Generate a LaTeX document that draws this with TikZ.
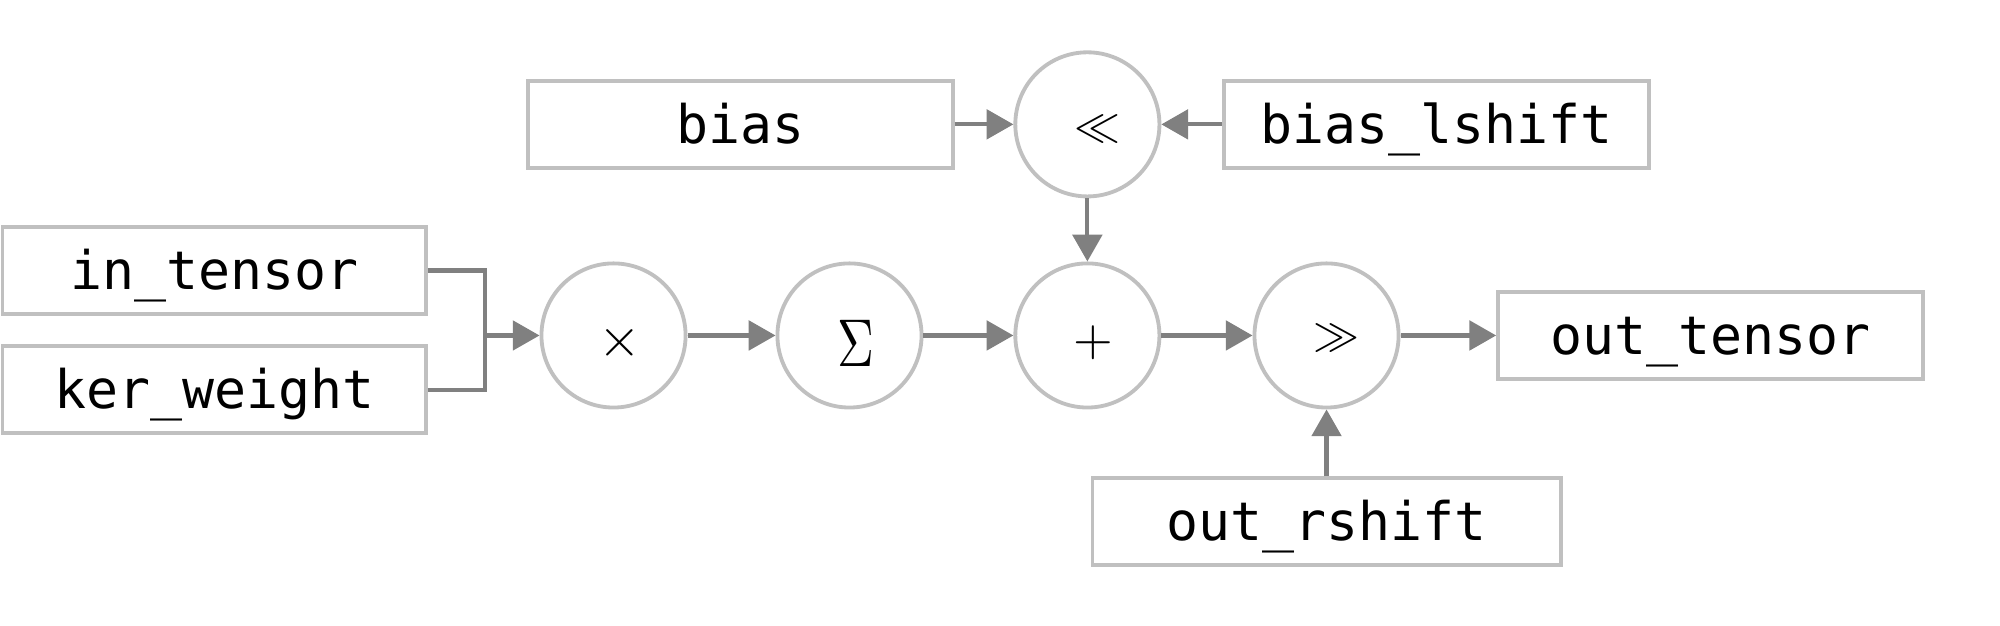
\documentclass[tikz,border=0pt]{standalone}
\usepackage{fontspec}
\usepackage{graphicx}
\newfontfamily\monofont{DejaVu Sans Mono}
\usetikzlibrary{arrows.meta}
\definecolor{boxgray}{HTML}{C0C0C0}
\definecolor{linegray}{HTML}{808080}
\tikzset{
  box/.style={draw=boxgray, line width=3pt, fill=white, rectangle, inner sep=0pt,
    minimum width=333pt, minimum height=68pt,
    font=\monofont\fontsize{41.7}{50}\selectfont, text height=32pt, text depth=2pt},
  op/.style={draw=boxgray, line width=3pt, fill=white, circle, inner sep=0pt, minimum size=113pt},
  sym/.style={inner sep=0pt},
  conn/.style={draw=linegray, line width=3.3pt},
  arr/.style={conn, -{Triangle[length=21pt,width=23pt]}},
}
\begin{document}
\begin{tikzpicture}[x=1pt,y=-1pt]
\useasboundingbox (0,0) rectangle (1568,490);
% boxes
\node[box] (bias) at (580.5,97.5) {bias};
\node[box] (blsh) at (1126,97.5) {bias\_lshift};
\node[box, minimum width=332pt] (intens) at (168,212) {in\_tensor};
\node[box, minimum width=332pt] (kerw) at (168,305.5) {ker\_weight};
\node[box] (outt) at (1341,263) {out\_tensor};
\node[box, minimum width=367pt] (orsh) at (1040,409) {out\_rshift};
% operators
\node[op] (lsh) at (852.5,97.5) {};
\node[op] (mul) at (481,263) {};
\node[op] (sum) at (666,263) {};
\node[op] (add) at (852.5,263) {};
\node[op] (rsh) at (1040,263) {};
\node[sym] (lshS) at ([shift={(8,4)}]lsh.center) {\scalebox{3.6}{$\ll$}};
\node[sym] (mulS) at ([shift={(5,6)}]mul.center) {\scalebox{4.3}{$\times$}};
\node[sym] (sumS) at ([shift={(5,6)}]sum.center) {\scalebox{4.0}[5.3]{$\Sigma$}};
\node[sym] (addS) at ([shift={(5,6)}]add.center) {\scalebox{4.0}{$+$}};
\node[sym] (rshS) at ([shift={(8,2)}]rsh.center) {\scalebox{3.6}{$\gg$}};
% connectors
\coordinate (j) at (380,263);
\draw[conn] (intens.east) -| (j);
\draw[conn] (kerw.east) -| (j);
\draw[arr] (j) -- (mul.west);
\draw[arr] (mul.east) -- (sum.west);
\draw[arr] (sum.east) -- (add.west);
\draw[arr] (add.east) -- (rsh.west);
\draw[arr] (rsh.east) -- (outt.west);
\draw[arr] (bias.east) -- (lsh.west);
\draw[arr] (blsh.west) -- (lsh.east);
\draw[arr] (lsh.south) -- (add.north);
\draw[arr] (orsh.north) -- (rsh.south);
\end{tikzpicture}
\end{document}
